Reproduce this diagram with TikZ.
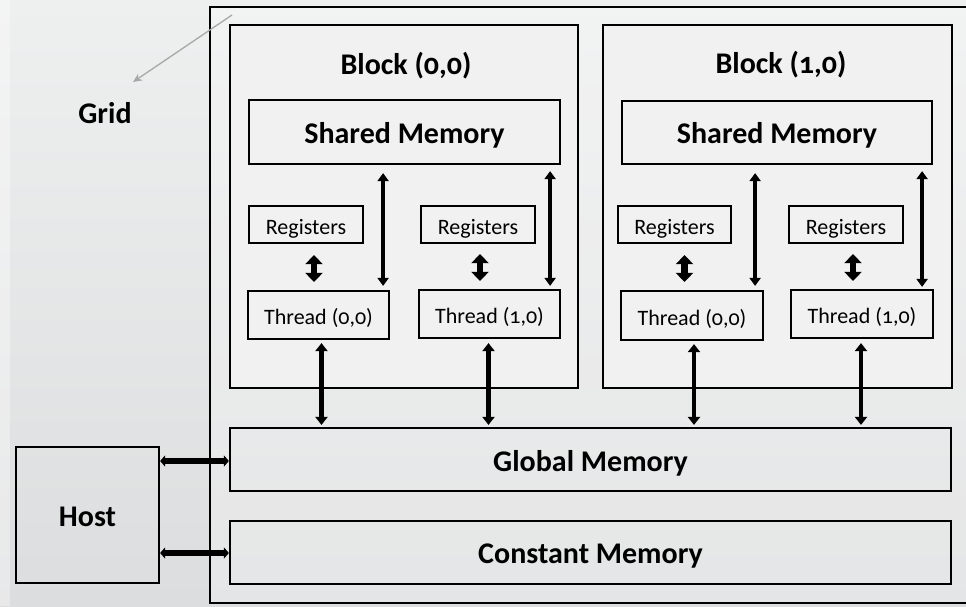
\documentclass[tikz,border=0pt]{standalone}
\usepackage{fontspec}
\setmainfont{Carlito}[Numbers=OldStyle]
\usetikzlibrary{arrows.meta,calc}
\definecolor{bgtop}{HTML}{EEEFEF}
\definecolor{bgbot}{HTML}{DCDDDE}
\definecolor{boxfill}{HTML}{F1F1F1}
\definecolor{gridarrow}{HTML}{A8A8A8}
\tikzset{
  box/.style={draw=black, line width=2.2pt, inner sep=0pt, rectangle},
  bigtxt/.style={font=\fontsize{30}{33}\selectfont\bfseries},
  bigin/.style={bigtxt, text height=25pt, text depth=3pt},
  smalltxt/.style={font=\fontsize{22}{24}\selectfont, text height=21pt, text depth=2pt},
  longarr/.style={line width=3.6pt, {Triangle[width=11pt,length=8pt]}-{Triangle[width=11pt,length=8pt]}},
  shortarr/.style={line width=6.5pt, {Triangle[width=17pt,length=9pt]}-{Triangle[width=17pt,length=9pt]}},
  memarr/.style={line width=4.5pt, {Triangle[width=12pt,length=8pt]}-{Triangle[width=12pt,length=8pt]}},
  hostarr/.style={line width=6pt, {Triangle[width=11pt,length=5pt]}-{Triangle[width=11pt,length=5pt]}},
}
\begin{document}
\begin{tikzpicture}[x=1pt,y=-1pt]
\useasboundingbox (0,0) rectangle (966,606);
\shade[top color=bgtop, bottom color=bgbot] (0,0) rectangle (966,606);
\fill[white,opacity=0.35] (0,0) rectangle (10,606);
% grid
\begin{scope}
\clip (0,0) rectangle (966,606);
\draw[line width=2.2pt, fill=white, fill opacity=0.25] (210,7) rectangle (980,603);
\end{scope}
% blocks
\node[box, fill=boxfill, minimum width=348pt, minimum height=363pt] (b0) at (404,206.5) {};
\node[box, fill=boxfill, minimum width=349pt, minimum height=363pt] (b1) at (777.5,206.5) {};
\node[bigtxt] (b0t) at (406,66) {Block (0,0)};
\node[bigtxt] (b1t) at (781,65) {Block (1,0)};
% shared memory
\node[box, minimum width=311pt, minimum height=64pt, bigin] (sm0) at (404.5,132) {Shared Memory};
\node[box, minimum width=310pt, minimum height=63pt, bigin] (sm1) at (777,132.5) {Shared Memory};
% registers
\node[box, minimum width=114pt, minimum height=37pt, smalltxt] (r00) at (306,224.5) {Registers};
\node[box, minimum width=114pt, minimum height=37pt, smalltxt] (r01) at (478,224.5) {Registers};
\node[box, minimum width=113pt, minimum height=37pt, smalltxt] (r10) at (674.5,224.5) {Registers};
\node[box, minimum width=114pt, minimum height=37pt, smalltxt] (r11) at (846,224.5) {Registers};
% threads
\node[box, minimum width=141pt, minimum height=48pt, smalltxt] (t00) at (318.5,315) {Thread (0,0)};
\node[box, minimum width=141pt, minimum height=48pt, smalltxt] (t01) at (489.5,314) {Thread (1,0)};
\node[box, minimum width=142pt, minimum height=49pt, smalltxt] (t10) at (692,315.5) {Thread (0,0)};
\node[box, minimum width=142pt, minimum height=48pt, smalltxt] (t11) at (862,314) {Thread (1,0)};
% global / constant
\node[box, minimum width=721pt, minimum height=63pt, bigtxt, text height=27pt, text depth=3pt] (gm) at (590.5,459.5) {Global Memory};
\node[box, minimum width=721pt, minimum height=63pt, bigin] (cm) at (590.5,552.5) {Constant Memory};
% host
\node[box, minimum width=143pt, minimum height=136pt, bigtxt, text height=24pt, text depth=0.5pt] (host) at (87.5,515) {Host};
% grid label
\node[bigtxt] (gridlbl) at (105,113) {Grid};
\coordinate (gridcorner) at (232,15);
\coordinate (gridtip) at (133,82);
\draw[gridarrow, line width=1.3pt, -{Stealth[length=9pt,width=8pt]}] (gridcorner) -- (gridtip);
% shared <-> thread
\draw[longarr] ([xshift=-7pt,yshift=-8pt]sm0.south -| t00.east) -- ([xshift=-7pt,yshift=4pt]t00.north east);
\draw[longarr] ([xshift=-11pt,yshift=-6pt]sm0.south -| t01.east) -- ([xshift=-11pt,yshift=3pt]t01.north east);
\draw[longarr] ([xshift=-9pt,yshift=-8pt]sm1.south -| t10.east) -- ([xshift=-9pt,yshift=4pt]t10.north east);
\draw[longarr] ([xshift=-12pt,yshift=-6pt]sm1.south -| t11.east) -- ([xshift=-12pt,yshift=2pt]t11.north east);
% registers <-> thread
\draw[shortarr] ([xshift=8pt,yshift=-11pt]r00.south) -- ([xshift=8pt,yshift=8pt]r00.south |- t00.north);
\draw[shortarr] ([xshift=2pt,yshift=-10pt]r01.south) -- ([xshift=2pt,yshift=8pt]r01.south |- t01.north);
\draw[shortarr] ([xshift=10pt,yshift=-11pt]r10.south) -- ([xshift=10pt,yshift=8pt]r10.south |- t10.north);
\draw[shortarr] ([xshift=7pt,yshift=-10pt]r11.south) -- ([xshift=7pt,yshift=8pt]r11.south |- t11.north);
% thread <-> global
\draw[memarr] ([xshift=3pt,yshift=-3pt]t00.south) -- ([xshift=3pt,yshift=2pt]t00.south |- gm.north);
\draw[memarr] ([xshift=-1pt,yshift=-4pt]t01.south) -- ([xshift=-1pt,yshift=2pt]t01.south |- gm.north);
\draw[memarr] ([xshift=2pt,yshift=-3pt]t10.south) -- ([xshift=2pt,yshift=2pt]t10.south |- gm.north);
\draw[memarr] ([xshift=-1pt,yshift=-4pt]t11.south) -- ([xshift=-1pt,yshift=2pt]t11.south |- gm.north);
% host <-> memories
\draw[hostarr] ([yshift=-1.5pt]gm.west -| host.east) -- ([yshift=-1.5pt]gm.west);
\draw[hostarr] ([yshift=-0.5pt]cm.west -| host.east) -- ([yshift=-0.5pt]cm.west);
\end{tikzpicture}
\end{document}
